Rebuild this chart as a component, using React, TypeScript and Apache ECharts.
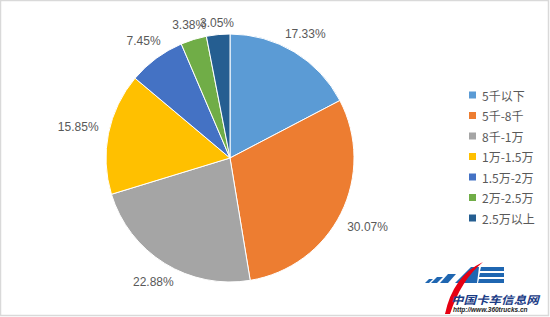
import React, { useEffect, useRef } from "react";
import * as echarts from "echarts";

const categories = ["5千以下", "5千-8千", "8千-1万", "1万-1.5万", "1.5万-2万", "2万-2.5万", "2.5万以上"];
const shares = [17.33, 30.07, 22.88, 15.85, 7.45, 3.38, 3.05];
const colors = ["#5B9BD5", "#ED7D31", "#A5A5A5", "#FFC000", "#4472C4", "#70AD47", "#255E91"];

const logoTitle = "中国卡车信息网";
const logoUrl = "http://www.360trucks.cn";

echarts.graphic.registerShape(
  "swoosh",
  echarts.graphic.extendPath("M 0 52 Q 8 14 38 0 Q 16 18 5 52 Z", {})
);

const CX = 230;
const CY = 158;
const R = 124;

export default function App() {
  const ref = useRef<HTMLDivElement>(null);
  useEffect(() => {
    const chart = echarts.init(ref.current!, null, { renderer: "svg" });
    const blue = "#1F66B1";
    const total = shares.reduce((a, b) => a + b, 0);
    const mids: number[] = [];
    let acc = 0;
    shares.forEach((v) => {
      mids.push(((acc + v / 2) / total) * Math.PI * 2);
      acc += v;
    });
    chart.setOption({
      animation: false,
      backgroundColor: "#ffffff",
      color: colors,
      legend: {
        orient: "vertical",
        left: 462,
        top: 84,
        itemWidth: 9,
        itemHeight: 9,
        itemGap: 8.5,
        icon: "rect",
        textStyle: {
          color: "#595959",
          fontSize: 12,
          lineHeight: 12,
          fontFamily: "Noto Sans CJK SC",
        },
        data: categories,
      },
      series: [
        {
          type: "pie",
          center: [CX, CY],
          radius: R,
          startAngle: 90,
          clockwise: true,
          avoidLabelOverlap: false,
          itemStyle: { borderColor: "#ffffff", borderWidth: 1 },
          label: {
            show: true,
            position: "outside",
            formatter: "{c}%",
            color: "#595959",
            fontSize: 12,
            fontFamily: "Liberation Sans",
            distanceToLabelLine: 0,
          },
          labelLine: { show: false, length: 17, length2: 0 },
          labelLayout: (p: any) => {
            const a = mids[p.dataIndex];
            const dx = Math.sin(a);
            const dy = -Math.cos(a);
            const w = p.labelRect.width;
            const h = p.labelRect.height;
            const half = Math.abs(dx) * w / 2 + Math.abs(dy) * h / 2;
            const d = 4 + 6 * dx * dx;
            const dist = R + d + half;
            return {
              x: CX + dx * dist,
              y: CY + dy * dist,
              align: "center",
              verticalAlign: "middle",
              hideOverlap: false,
            };
          },
          data: categories.map((name, i) => ({ name, value: shares[i] })),
        },
      ],
      graphic: [
        {
          type: "rect",
          silent: true,
          shape: { x: 0.5, y: 0.5, width: 548, height: 315 },
          style: { fill: "none", stroke: "#d9d9d9", lineWidth: 1.5 },
        },
        {
          type: "group",
          silent: true,
          children: [
            { type: "polygon", shape: { points: [[425, 283], [429, 279], [433, 279], [429, 283]] }, style: { fill: blue } },
            { type: "polygon", shape: { points: [[431, 283], [437, 277], [443, 277], [437, 283]] }, style: { fill: blue } },
            { type: "polygon", shape: { points: [[440, 283], [448, 274], [456, 274], [448, 283]] }, style: { fill: blue } },
            { type: "polygon", shape: { points: [[455, 283], [471, 267], [479, 267], [477, 283]] }, style: { fill: blue } },
            { type: "polygon", shape: { points: [[481, 267], [504, 267], [504, 271], [480, 271]] }, style: { fill: blue } },
            { type: "polygon", shape: { points: [[480, 273], [504, 273], [504, 277], [479, 277]] }, style: { fill: blue } },
            { type: "polygon", shape: { points: [[479, 279], [504, 279], [504, 283], [478, 283]] }, style: { fill: blue } },
            { type: "swoosh", x: 445, y: 262, style: { fill: "#E60012" } },
            {
              type: "text",
              x: 451,
              y: 293.5,
              scaleX: 1.14,
              style: {
                text: logoTitle,
                fill: "#1B3C86",
                font: "italic bold 11px 'Noto Sans CJK SC'",
                lineHeight: 11,
              },
            },
            {
              type: "text",
              x: 453,
              y: 305.5,
              style: {
                text: logoUrl,
                fill: "#222222",
                font: "italic bold 6.5px 'Liberation Sans'",
                lineHeight: 7,
              },
            },
          ],
        },
      ],
    });
    return () => chart.dispose();
  }, []);
  return (
    <div
      ref={ref}
      style={{ position: "fixed", left: 0, top: 0, width: 550, height: 317 }}
    />
  );
}
